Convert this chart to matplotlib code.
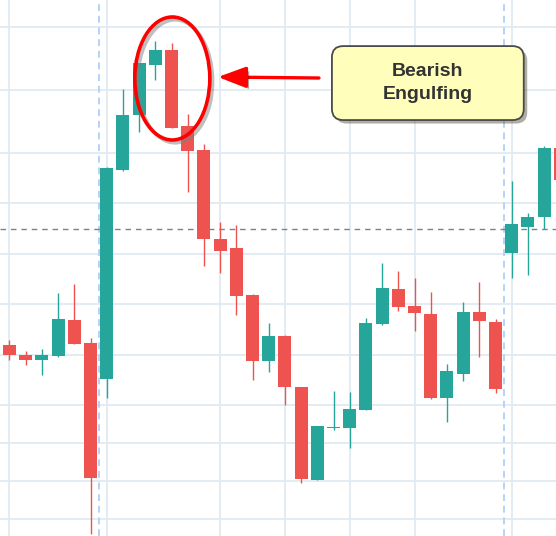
import matplotlib.pyplot as plt
import matplotlib.patches as mpatches
import matplotlib.patheffects as pe

# OHLC values (no price scale shown, arbitrary units)
opens = [115.5, 114.5, 114.0, 114.4, 118.0, 115.7, 112.1, 133.0, 138.5, 143.5,
         145.0, 137.4, 135.0, 126.1, 125.2, 120.5, 113.9, 116.4, 111.3, 102.0,
         107.2, 107.2, 109.0, 117.6, 121.1, 119.4, 118.6, 110.2, 112.6, 118.8,
         117.8, 124.7, 127.3, 128.3, 135.2]
highs = [116.0, 114.9, 115.1, 120.7, 121.6, 116.2, 133.3, 141.1, 143.7, 145.9,
         145.7, 138.6, 135.6, 127.8, 127.5, 120.6, 117.7, 116.5, 111.3, 107.4,
         110.9, 110.8, 118.2, 123.7, 122.9, 122.2, 120.8, 113.6, 119.8, 121.8,
         118.1, 131.9, 128.7, 135.4, 135.4]
lows = [114.0, 113.5, 112.5, 114.3, 115.6, 96.6, 110.2, 132.9, 136.8, 142.0,
        137.2, 130.8, 123.4, 122.7, 118.5, 112.0, 112.8, 109.5, 101.7, 102.0,
        107.0, 105.2, 109.0, 117.5, 118.9, 116.9, 110.1, 107.8, 111.9, 114.3,
        110.7, 122.2, 122.5, 127.1, 131.0]
closes = [114.5, 114.0, 114.5, 118.1, 115.6, 102.2, 133.2, 138.5, 143.7, 145.0,
          137.2, 134.9, 126.1, 124.9, 120.4, 113.9, 116.4, 111.3, 102.1, 107.4,
          107.3, 109.1, 117.7, 121.2, 119.3, 118.7, 110.2, 112.9, 118.8, 117.9,
          111.1, 127.6, 128.3, 135.2, 132.0]

price_grid = [147.3, 141.0, 134.7, 129.7, 124.6, 119.6, 114.5, 109.5, 105.7, 101.9, 98.1]
time_grid = [0, 6, 13, 17, 21, 25, 31]
session_breaks = [5.5, 30.5]
last_price = 127.1

up_color = '#26a69a'
down_color = '#ef5350'

fig = plt.figure(figsize=(5.56, 5.36), dpi=100)
ax = fig.add_axes([0, 0, 1, 1])

xs = list(range(len(opens)))
for i in xs:
    o, h, l, c = opens[i], highs[i], lows[i], closes[i]
    col = up_color if c >= o else down_color
    ax.vlines(i, l, h, color=col, lw=1.0, zorder=3)
    body = max(abs(c - o), 0.12)
    ax.bar(i, body, bottom=min(o, c), width=0.8, color=col, zorder=3)

# grid
for p in price_grid:
    ax.axhline(p, color='#e1eaf2', lw=1.3, zorder=0)
for t in time_grid:
    ax.axvline(t, color='#e1eaf2', lw=1.3, zorder=0)
for t in session_breaks:
    ax.axvline(t, color='#b3d3f8', lw=1.4, ls=(0, (3.5, 2.5)), zorder=1)
ax.axhline(last_price, color='#7a8290', lw=1.0, ls=(0, (4, 3.5)), zorder=2)

ax.set_xlim(-0.586, 33.73)
ax.set_ylim(96.4, 150)
ax.set_xticks([])
ax.set_yticks([])
for s in ax.spines.values():
    s.set_visible(False)

# red ellipse round the engulfing pair
shadow = [pe.SimpleLineShadow(offset=(2, -2), shadow_color='gray', alpha=0.5), pe.Normal()]
ell = mpatches.Ellipse((10.05, 142.15), width=4.63, height=12.3, fill=False,
                       ec='#ff0000', lw=2.6, zorder=5)
ell.set_path_effects(shadow)
ax.add_patch(ell)

# arrow from the label to the ellipse
arr = ax.annotate('', xy=(12.87, 142.3), xytext=(19.1, 142.2),
                  arrowprops=dict(arrowstyle='-|>,head_length=0.85,head_width=0.32',
                                  mutation_scale=20, color='#ff0000', lw=2.4,
                                  shrinkA=0, shrinkB=0), zorder=5)
arr.arrow_patch.set_path_effects([pe.SimplePatchShadow(offset=(2, -2), alpha=0.4), pe.Normal()])

# label box
box = mpatches.FancyBboxPatch((0.597, 0.776), 0.345, 0.138,
                              boxstyle='round,pad=0,rounding_size=0.02',
                              mutation_aspect=556 / 536,
                              transform=ax.transAxes, fc='#ffffbb', ec='#4a4a4a',
                              lw=1.3, zorder=6)
box.set_path_effects([pe.SimplePatchShadow(offset=(2.5, -2.5), alpha=0.45), pe.Normal()])
ax.add_patch(box)
ax.text(0.7695, 0.845, 'Bearish\nEngulfing', transform=ax.transAxes,
        ha='center', va='center', fontsize=14, fontweight='bold', linespacing=1.4,
        family='Liberation Sans', color='#333333', zorder=7)

fig.savefig('out.png', dpi=100)
